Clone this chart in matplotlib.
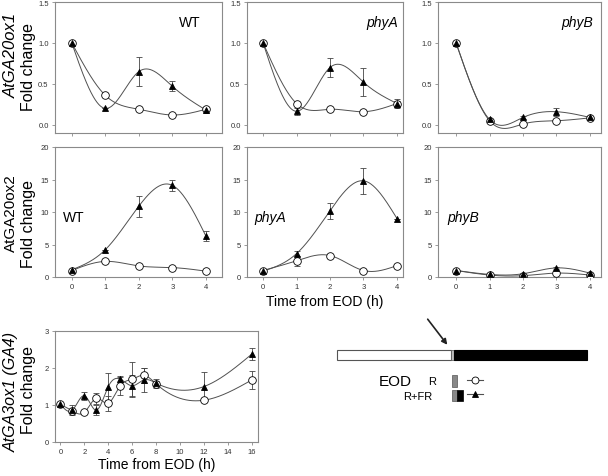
import numpy as np
import matplotlib
matplotlib.use("Agg")
import matplotlib.pyplot as plt
from matplotlib.patches import Rectangle

plt.rcParams['font.family'] = ['Liberation Sans', 'DejaVu Sans']

# ---- data ----
hours = [0, 1, 2, 3, 4]

# AtGA20ox1 (top row)
ox1_wt_r = [1.0, 0.36, 0.19, 0.12, 0.19]
ox1_wt_r_err = [0, 0, 0, 0, 0.02]
ox1_wt_fr = [1.0, 0.20, 0.65, 0.47, 0.18]
ox1_wt_fr_err = [0, 0, 0.18, 0.06, 0.03]
ox1_phya_r = [1.0, 0.26, 0.19, 0.16, 0.26]
ox1_phya_r_err = [0, 0, 0, 0, 0.03]
ox1_phya_fr = [1.0, 0.165, 0.70, 0.52, 0.26]
ox1_phya_fr_err = [0, 0.04, 0.11, 0.17, 0.05]
ox1_phyb_r = [1.0, 0.05, 0.01, 0.05, 0.085]
ox1_phyb_r_err = [0, 0, 0, 0, 0]
ox1_phyb_fr = [1.0, 0.065, 0.09, 0.16, 0.09]
ox1_phyb_fr_err = [0, 0, 0.02, 0.05, 0.02]

# AtGA20ox2 (middle row)
ox2_wt_r = [1.0, 2.4, 1.7, 1.45, 0.9]
ox2_wt_r_err = [0, 0, 0, 0, 0]
ox2_wt_fr = [1.1, 4.2, 10.9, 14.1, 6.3]
ox2_wt_fr_err = [0, 0, 1.6, 0.9, 0.8]
ox2_phya_r = [1.0, 2.5, 3.3, 1.0, 1.75]
ox2_phya_r_err = [0, 0.8, 0, 0, 0]
ox2_phya_fr = [0.9, 3.6, 10.2, 14.8, 9.0]
ox2_phya_fr_err = [0, 0.4, 1.2, 2.0, 0]
ox2_phyb_r = [1.0, 0.3, 0.2, 0.6, 0.3]
ox2_phyb_r_err = [0, 0, 0, 0, 0]
ox2_phyb_fr = [1.0, 0.4, 0.5, 1.4, 0.6]
ox2_phyb_fr_err = [0, 0, 0, 0.2, 0]

# AtGA3ox1 (bottom)
ga3_hours = [0, 1, 2, 3, 4, 5, 6, 7, 8, 12, 16]
ga3_r = [1.02, 0.84, 0.80, 1.18, 1.05, 1.52, 1.70, 1.80, 1.57, 1.13, 1.68]
ga3_r_err = [0.03, 0.05, 0, 0.15, 0.2, 0.25, 0.45, 0.2, 0.08, 0.03, 0.24]
ga3_fr = [1.02, 0.86, 1.25, 0.86, 1.50, 1.70, 1.52, 1.68, 1.59, 1.50, 2.38]
ga3_fr_err = [0.03, 0.13, 0.11, 0.13, 0.37, 0.09, 0.3, 0.32, 0.12, 0.38, 0.17]

W, H = 608, 477
LINE = '#505050'
SPINE = '#8a8a8a'


def spline(x, y, n=300):
    # natural cubic spline, like the smoothed lines in the original
    x = np.asarray(x, float)
    y = np.asarray(y, float)
    k = len(x)
    h = np.diff(x)
    A = np.zeros((k, k))
    b = np.zeros(k)
    A[0, 0] = A[-1, -1] = 1
    for i in range(1, k - 1):
        A[i, i - 1] = h[i - 1]
        A[i, i] = 2 * (h[i - 1] + h[i])
        A[i, i + 1] = h[i]
        b[i] = 6 * ((y[i + 1] - y[i]) / h[i] - (y[i] - y[i - 1]) / h[i - 1])
    M = np.linalg.solve(A, b)
    xs = np.linspace(x[0], x[-1], n)
    idx = np.clip(np.searchsorted(x, xs) - 1, 0, k - 2)
    x0, x1 = x[idx], x[idx + 1]
    hh = x1 - x0
    t0, t1 = x1 - xs, xs - x0
    ys = (M[idx] * t0 ** 3 + M[idx + 1] * t1 ** 3) / (6 * hh) \
        + (y[idx] / hh - M[idx] * hh / 6) * t0 + (y[idx + 1] / hh - M[idx + 1] * hh / 6) * t1
    return xs, ys


def box(px_left, px_top, px_right, px_bottom):
    return fig.add_axes([px_left / W, 1 - px_bottom / H,
                         (px_right - px_left) / W, (px_bottom - px_top) / H])


def draw(ax, x, r, r_err, fr, fr_err):
    for vals, errs, mk, fc in [(r, r_err, 'o', 'white'), (fr, fr_err, '^', 'black')]:
        xs, ys = spline(x, vals)
        ax.plot(xs, ys, color=LINE, lw=0.7, zorder=2)
        ax.errorbar(x, vals, yerr=errs, fmt='none', ecolor='#444444',
                    elinewidth=0.6, capsize=2, capthick=0.6, zorder=3)
        ax.plot(x, vals, mk, ms=5.5 if mk == 'o' else 5, mfc=fc, mec='black',
                mew=0.6, ls='none', zorder=4)


def style(ax, show_xlabels=True):
    for s in ax.spines.values():
        s.set_color(SPINE)
        s.set_linewidth(0.8)
    ax.tick_params(labelsize=5.5, length=2.5, width=0.6, color=SPINE,
                   labelcolor='#333333', pad=2)
    if not show_xlabels:
        ax.tick_params(axis='x', labelbottom=False)


fig = plt.figure(figsize=(W / 100, H / 100), dpi=100)

cols = [(55, 222, (-0.5, 4.48)), (247, 403, (-0.48, 4.18)), (438, 601, (-0.54, 4.33))]
top_sets = [(ox1_wt_r, ox1_wt_r_err, ox1_wt_fr, ox1_wt_fr_err),
            (ox1_phya_r, ox1_phya_r_err, ox1_phya_fr, ox1_phya_fr_err),
            (ox1_phyb_r, ox1_phyb_r_err, ox1_phyb_fr, ox1_phyb_fr_err)]
mid_sets = [(ox2_wt_r, ox2_wt_r_err, ox2_wt_fr, ox2_wt_fr_err),
            (ox2_phya_r, ox2_phya_r_err, ox2_phya_fr, ox2_phya_fr_err),
            (ox2_phyb_r, ox2_phyb_r_err, ox2_phyb_fr, ox2_phyb_fr_err)]
names = ['WT', 'phyA', 'phyB']
name_right = [0.87, 0.97, 0.95]
name_left = [0.05, 0.05, 0.055]

for i, (l, r, xl) in enumerate(cols):
    ax = box(l, 3, r, 134)
    draw(ax, hours, *top_sets[i])
    ax.set_xlim(*xl)
    ax.set_ylim(-0.1, 1.5)
    ax.set_xticks(hours)
    ax.set_yticks([0.0, 0.5, 1.0, 1.5])
    ax.yaxis.set_major_formatter(matplotlib.ticker.FormatStrFormatter('%.1f'))
    style(ax, show_xlabels=False)
    ax.text(name_right[i], 0.85, names[i], transform=ax.transAxes, ha='right', va='center',
            fontsize=10, style='normal' if i == 0 else 'italic')

    ax = box(l, 148, r, 278)
    draw(ax, hours, *mid_sets[i])
    ax.set_xlim(*xl)
    ax.set_ylim(0, 20)
    ax.set_xticks(hours)
    ax.set_yticks([0, 5, 10, 15, 20])
    style(ax)
    ax.text(name_left[i], 0.46, names[i], transform=ax.transAxes, ha='left',
            va='center', fontsize=10, style='normal' if i == 0 else 'italic')
    if i == 1:
        ax.set_xlabel('Time from EOD (h)', fontsize=10, labelpad=3)

ax = box(55, 332, 258, 443)
draw(ax, ga3_hours, ga3_r, ga3_r_err, ga3_fr, ga3_fr_err)
ax.set_xlim(-0.45, 16.5)
ax.set_ylim(0, 3)
ax.set_xticks(range(0, 17, 2))
ax.set_yticks([0, 1, 2, 3])
style(ax)
ax.set_xlabel('Time from EOD (h)', fontsize=10, labelpad=1)

# overlay in pixel coordinates for labels and the light-regime sketch
ov = fig.add_axes([0, 0, 1, 1])
ov.set_xlim(0, W)
ov.set_ylim(H, 0)
ov.axis('off')

ov.text(11, 55, 'AtGA20ox1', rotation=90, ha='center', va='center', fontsize=12, style='italic')
ov.text(29, 67, 'Fold change', rotation=90, ha='center', va='center', fontsize=11.5)
ov.text(11, 213, 'AtGA20ox2', rotation=90, ha='center', va='center', fontsize=11)
ov.text(29, 224, 'Fold change', rotation=90, ha='center', va='center', fontsize=11.5)
ov.text(11, 392, 'AtGA3ox1 (GA4)', rotation=90, ha='center', va='center', fontsize=11.5, style='italic')
ov.text(29, 390, 'Fold change', rotation=90, ha='center', va='center', fontsize=11.5)

ov.add_patch(Rectangle((337, 351), 114, 10, fc='white', ec='#555555', lw=0.8))
ov.add_patch(Rectangle((451, 351), 3, 10, fc='#bbbbbb', ec='#555555', lw=0.5))
ov.add_patch(Rectangle((454, 351), 133, 10, fc='black', ec='black', lw=0.8))
ov.annotate('', xy=(449, 348), xytext=(426, 318),
            arrowprops=dict(arrowstyle='-|>', color='#222222', lw=1.2, mutation_scale=8))

ov.text(395, 382, 'EOD', fontsize=11, ha='center', va='center')
ov.text(432, 382, 'R', fontsize=8, ha='center', va='center')
ov.text(418, 397, 'R+FR', fontsize=8, ha='center', va='center')
ov.add_patch(Rectangle((452, 376), 5, 12, fc='#888888', ec='#555555', lw=0.5))
ov.add_patch(Rectangle((452, 391), 5, 11, fc='#888888', ec='#555555', lw=0.5))
ov.add_patch(Rectangle((457, 391), 6, 11, fc='black', ec='black', lw=0.5))
ov.plot([467, 483], [381, 381], color=LINE, lw=0.8)
ov.plot([475], [381], 'o', ms=5, mfc='white', mec='black', mew=0.6)
ov.plot([467, 483], [395, 395], color=LINE, lw=0.8)
ov.plot([475], [395], '^', ms=5, mfc='black', mec='black', mew=0.6)

fig.savefig('out.png', dpi=100)
